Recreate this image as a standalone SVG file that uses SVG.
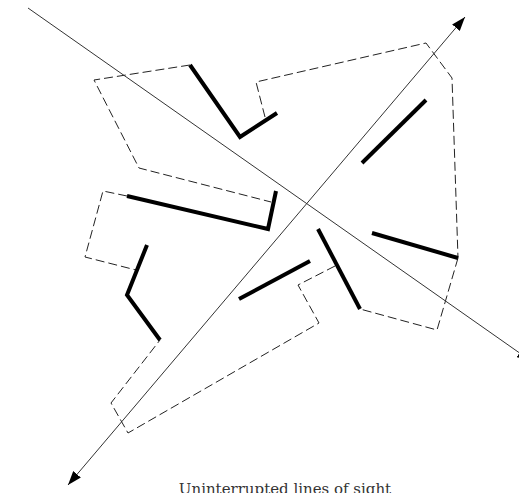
<svg xmlns="http://www.w3.org/2000/svg" width="519" height="493" viewBox="0 0 519 493">
<defs>
<marker id="arr" viewBox="0 0 14 10" refX="14" refY="5" markerWidth="14" markerHeight="10" markerUnits="userSpaceOnUse" orient="auto-start-reverse">
<path d="M0,0 L14,5 L0,10 Z" fill="#000"/>
</marker>
<style>
.region{fill:none;stroke:#222;stroke-width:1;stroke-dasharray:9,4}
.wall{fill:none;stroke:#000;stroke-width:4;stroke-linejoin:miter;stroke-linecap:butt}
.sight{fill:none;stroke:#333;stroke-width:1}
.cap{font-family:"DejaVu Serif","Liberation Serif",serif;font-size:15px;fill:#333}
</style>
</defs>
<rect width="519" height="493" fill="#fff"/>
<g id="regions">
<polyline class="region" points="190,65 94,80 139,168 271,202"/>
<polyline class="region" points="265,117 256,82 426,43 452,78 458,258"/>
<polyline class="region" points="458,258 437,330 360,309"/>
<polyline class="region" points="335,266 298,285 319,323 128,433 111,403 160,340"/>
<polyline class="region" points="127,196 103,191 85,257 136,270"/>
</g>
<g id="walls">
<polyline class="wall" points="190,65 240,137 277,113"/>
<line class="wall" x1="426" y1="100" x2="362" y2="163"/>
<line class="wall" x1="372" y1="233" x2="458" y2="258"/>
<line class="wall" x1="318" y1="229" x2="360" y2="309"/>
<line class="wall" x1="239" y1="299" x2="310" y2="261"/>
<polyline class="wall" points="127,196 268,229 276,191"/>
<polyline class="wall" points="147,245 127,295 160,340"/>
</g>
<g id="connectors">
<line class="sight" x1="28" y1="8" x2="531" y2="361" marker-end="url(#arr)"/>
<line class="sight" x1="68" y1="485" x2="465" y2="17" marker-start="url(#arr)" marker-end="url(#arr)"/>
</g>
<text class="cap" x="285" y="494" text-anchor="middle">Uninterrupted lines of sight</text>
</svg>
